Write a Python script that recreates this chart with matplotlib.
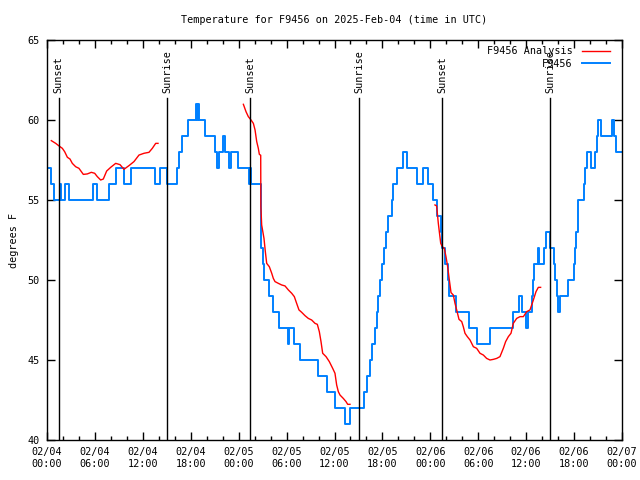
import numpy as np
import matplotlib
matplotlib.use("Agg")
import matplotlib.pyplot as plt
import matplotlib.dates as mdates
from datetime import datetime, timedelta

start = datetime(2025, 2, 4)

# station observations: (hours after start, deg F), value holds until next point
obs_hours = [0.0, 0.46, 0.88, 1.59, 1.8, 2.2, 2.75, 5.76, 6.3, 7.76, 8.6, 9.64, 10.56, 13.5, 14.15, 15.07,
             16.24, 16.53, 16.9, 17.6, 18.66, 18.8, 18.9, 19.07, 19.83, 21.04, 21.33, 21.58, 22.0, 22.33,
             22.75, 23.0, 23.96, 25.33, 25.45, 25.55,
             26.8, 27.0, 27.17, 27.76, 28.3, 29.1, 30.2, 30.3, 30.97, 31.68, 33.9, 35.1, 36.06, 37.3, 37.94,
             39.75, 40.1, 40.45, 40.74, 41.07, 41.28, 41.49, 41.7, 41.9, 42.2, 42.4, 42.74, 43.16,
             43.37, 43.79, 44.62, 45.04, 46.29, 47.04, 47.75, 48.3, 48.85, 49.3, 49.5, 49.84, 50.17, 50.38,
             51.18, 52.84, 53.89, 55.51, 58.31, 59.1, 59.52, 59.94, 60.2, 60.69, 60.9, 61.0, 61.44, 61.65,
             62.23, 62.44, 63.03, 63.45, 63.6, 63.8, 64.0, 64.24, 65.2, 65.95, 66.1, 66.3, 66.45, 67.2,
             67.4, 67.6, 68.1, 68.66, 68.83, 69.03, 69.37, 70.75, 70.96, 71.2, 72.0]
obs_temps = [57, 56, 55, 56, 55, 56, 55, 56, 55, 56, 57, 56, 57, 56, 57, 56,
             57, 58, 59, 60, 61, 60, 61, 60, 59, 58, 57, 58, 59, 58,
             57, 58, 57, 56, 57, 56,
             52, 51, 50, 49, 48, 47, 46, 47, 46, 45, 44, 43, 42, 41, 42,
             43, 44, 45, 46, 47, 48, 49, 50, 51, 52, 53, 54, 55,
             56, 57, 58, 57, 56, 57, 56, 55, 54, 53, 52, 51, 50, 49,
             48, 47, 46, 47, 48, 49, 48, 47, 48, 49, 50, 51, 52, 51,
             52, 53, 52, 51, 50, 49, 48, 49, 50, 51, 52, 53, 55, 56,
             57, 58, 57, 58, 59, 60, 59, 60, 59, 58, 58]

# analysis, three separate runs
ana1_hours = [0.54, 1.09, 1.5, 1.92, 2.21, 2.55, 2.88, 3.17, 3.59, 4.0, 4.55, 5.05, 5.55, 5.97, 6.3,
              6.72, 7.05, 7.47, 7.97, 8.6, 9.14, 9.64, 10.27, 10.89, 11.52, 12.15, 12.77, 13.19, 13.61, 13.9]
ana1_temps = [58.71, 58.54, 58.38, 58.23, 58.02, 57.67, 57.56, 57.29, 57.08, 56.98, 56.6, 56.63, 56.73, 56.67, 56.46,
              56.25, 56.31, 56.81, 57.04, 57.29, 57.21, 56.92, 57.15, 57.4, 57.81, 57.92, 57.98, 58.23, 58.54, 58.54]
ana2_hours = [24.59, 24.92, 25.21, 25.55, 25.84, 26.05, 26.26, 26.46, 26.59, 26.76, 26.78, 26.88, 27.17, 27.34,
              27.51, 27.84, 28.14, 28.34, 28.55, 28.97, 29.38, 29.8, 30.22, 30.64, 30.97, 31.26, 31.55, 31.89,
              32.31, 32.72, 33.14, 33.56, 33.85, 34.1, 34.31, 34.52, 34.94, 35.35, 35.77, 36.06, 36.27, 36.48,
              36.69, 37.1, 37.44, 37.65, 37.94]
ana2_temps = [60.98, 60.52, 60.21, 60.0, 59.79, 59.38, 58.65, 58.23, 57.85, 57.8, 54.6, 53.44, 52.6, 51.77,
              51.04, 50.83, 50.42, 50.1, 49.9, 49.79, 49.69, 49.63, 49.38, 49.17, 48.96, 48.54, 48.13, 47.98,
              47.77, 47.6, 47.5, 47.29, 47.23, 46.77, 46.15, 45.42, 45.21, 44.9, 44.48, 44.17, 43.44, 43.02,
              42.81, 42.6, 42.4, 42.23, 42.23]
ana3_hours = [48.58, 48.79, 49.0, 49.3, 49.5, 49.75, 49.96, 50.17, 50.38, 50.59, 50.88, 51.09, 51.3, 51.59,
              51.93, 52.13, 52.34, 52.63, 52.97, 53.39, 53.8, 54.22, 54.64, 55.05, 55.47, 55.89, 56.31, 56.72,
              57.14, 57.43, 57.77, 58.1, 58.39, 58.81, 59.23, 59.65, 60.06, 60.48, 60.9, 61.23, 61.52, 61.81]
ana3_temps = [54.69, 54.63, 53.54, 52.29, 52.08, 51.98, 51.46, 50.83, 50.0, 49.21, 49.06, 48.54, 48.13, 47.54,
              47.4, 47.08, 46.67, 46.46, 46.25, 45.83, 45.73, 45.42, 45.31, 45.1, 45.0, 45.04, 45.1, 45.21,
              45.73, 46.15, 46.46, 46.67, 47.29, 47.6, 47.71, 47.71, 48.02, 48.13, 48.75, 49.27, 49.54, 49.54]

event_hours = [1.45, 15.07, 25.47, 39.07, 49.48, 63.03]
event_names = ["Sunset", "Sunrise", "Sunset", "Sunrise", "Sunset", "Sunrise"]


def to_dt(hours):
    return [start + timedelta(hours=h) for h in hours]


font = "DejaVu Sans Mono"
fs = 7.3

fig = plt.figure(figsize=(6.4, 4.8), dpi=100)
ax = fig.add_axes([47 / 640, 40 / 480, 575 / 640, 400 / 480])

# analysis line with gaps between the runs
ana_t = to_dt(ana1_hours) + [start + timedelta(hours=20)] + to_dt(ana2_hours) + \
    [start + timedelta(hours=44)] + to_dt(ana3_hours)
ana_v = ana1_temps + [np.nan] + ana2_temps + [np.nan] + ana3_temps
ax.plot(ana_t, ana_v, color="#ff0000", lw=1.0, label="F9456 Analysis", zorder=3)
ax.plot(to_dt(obs_hours), obs_temps, color="#0080ff", lw=1.4, drawstyle="steps-post",
        label="F9456", zorder=2)

for h, name in zip(event_hours, event_names):
    t = start + timedelta(hours=h)
    ax.plot([t, t], [40, 61.35], color="black", lw=1.0, zorder=4)
    ax.text(t, 61.7, name, rotation=90, ha="center", va="bottom", family=font, fontsize=fs)

ax.set_xlim(start, start + timedelta(hours=72))
ax.set_ylim(40, 65)
ax.set_yticks([40, 45, 50, 55, 60, 65])
ax.xaxis.set_major_locator(mdates.HourLocator(byhour=[0, 6, 12, 18]))
ax.xaxis.set_minor_locator(mdates.HourLocator(byhour=range(0, 24, 2)))
ax.xaxis.set_major_formatter(mdates.DateFormatter("%m/%d\n%H:%M"))
ax.tick_params(which="both", direction="in", top=True, right=True, width=1.0, colors="black")
ax.tick_params(which="major", length=6, pad=5)
ax.tick_params(which="minor", length=3)
for lab in ax.get_xticklabels() + ax.get_yticklabels():
    lab.set_family(font)
    lab.set_fontsize(fs)
for sp in ax.spines.values():
    sp.set_linewidth(1.0)

ax.set_title("Temperature for F9456 on 2025-Feb-04 (time in UTC)", family=font, fontsize=fs, pad=12)
ax.set_ylabel("degrees F", family=font, fontsize=fs, labelpad=6)

ax.legend(loc="upper right", frameon=False, markerfirst=False, prop={"family": font, "size": fs},
          handlelength=2.8, borderaxespad=0.2, labelspacing=0.25, handletextpad=0.9,
          bbox_to_anchor=(0.99, 1.0))

fig.savefig("out.png", dpi=100)
